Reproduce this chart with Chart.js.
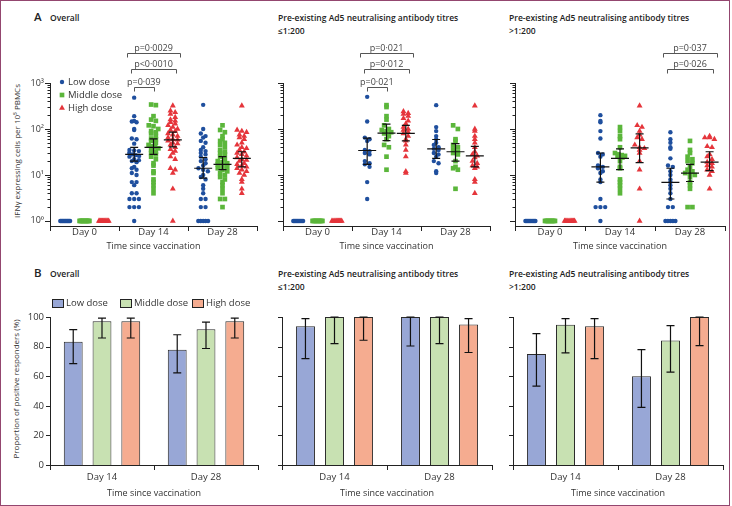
<!DOCTYPE html>
<html>
<head>
<meta charset="utf-8">
<script src="https://cdn.jsdelivr.net/npm/chart.js@4.4.1/dist/chart.umd.min.js"></script>
<style>
body { margin: 0; background: #fff; }
#fig { position: relative; width: 732px; height: 506px; font-family: "Open Sans", "Noto Sans", sans-serif; color: #333; }
#frame { position: absolute; left: 0; top: 0; width: 728px; height: 504px; border: 1px solid #93466f; }
canvas { position: absolute; }
.t { position: absolute; white-space: nowrap; font-size: 8.5px; line-height: 13px; }
.h { font-weight: 600; color: #222; }
.big { font-size: 11.5px; font-weight: 600; color: #222; }
.r { font-size: 8px; transform: translate(-50%, -50%) rotate(-90deg); }
</style>
</head>
<body>
<div id="fig">
  <div id="frame"></div>

  <div class="t big" style="left:34px;top:10px">A</div>
  <div class="t h" style="left:50px;top:11px">Overall</div>
  <div class="t h" style="left:278px;top:11px">Pre-existing Ad5 neutralising antibody titres<br>≤1:200</div>
  <div class="t h" style="left:509px;top:11px">Pre-existing Ad5 neutralising antibody titres<br>&gt;1:200</div>

  <div class="t big" style="left:34px;top:266px">B</div>
  <div class="t h" style="left:50px;top:267px">Overall</div>
  <div class="t h" style="left:278px;top:267px">Pre-existing Ad5 neutralising antibody titres<br>≤1:200</div>
  <div class="t h" style="left:509px;top:267px">Pre-existing Ad5 neutralising antibody titres<br>&gt;1:200</div>

  <div class="t r" style="left:16px;top:151px">IFNγ expressing cells per 10⁵ PBMCs</div>
  <div class="t r" style="left:15px;top:389px">Proportion of positive responders (%)</div>

  <canvas id="a1" width="268" height="258" style="left:0;top:0"></canvas>
  <canvas id="a2" width="232" height="258" style="left:268px;top:0"></canvas>
  <canvas id="a3" width="232" height="258" style="left:500px;top:0"></canvas>
  <canvas id="b1" width="268" height="248" style="left:0;top:258px"></canvas>
  <canvas id="b2" width="232" height="248" style="left:268px;top:258px"></canvas>
  <canvas id="b3" width="232" height="248" style="left:500px;top:258px"></canvas>
</div>

<script>
// categories and labels
const days = ['Day 0', 'Day 14', 'Day 28'];
const barDays = ['Day 14', 'Day 28'];
const doses = ['Low dose', 'Middle dose', 'High dose'];
const yMajor = [1, 10, 100, 1000];
const yMajorText = ['10⁰', '10¹', '10²', '10³'];
const pctTicks = [0, 20, 40, 60, 80, 100];

// A - overall, IFNy spots per 10^5 PBMCs (1 = none detected)
const ovLowD0 = [1, 1, 1, 1, 1, 1, 1, 1, 1, 1, 1, 1];
const ovMidD0 = [1, 1, 1, 1, 1, 1, 1, 1, 1, 1, 1, 1];
const ovHighD0 = [1, 1, 1, 1, 1, 1, 1, 1, 1, 1, 1, 1];
const ovLowD14 = [480, 190, 150, 145, 140, 100, 95, 62, 60, 48, 35, 34, 33, 30, 28, 27, 26, 25, 22, 21, 20, 19, 15, 14, 13, 11, 10, 7, 7, 6, 4, 4, 3, 3, 3, 2, 2, 2, 1];
const ovMidD14 = [340, 330, 190, 160, 150, 120, 115, 100, 90, 85, 80, 70, 62, 60, 55, 50, 45, 42, 40, 38, 35, 32, 30, 28, 25, 22, 18, 16, 12, 11, 8, 7, 6, 5, 4];
const ovHighD14 = [320, 250, 230, 210, 180, 160, 150, 140, 130, 120, 110, 100, 95, 90, 80, 75, 70, 65, 60, 58, 55, 50, 48, 45, 40, 36, 33, 30, 25, 22, 14, 13, 11, 5, 1];
const ovLowD28 = [335, 100, 80, 70, 65, 55, 50, 40, 35, 33, 30, 28, 25, 22, 20, 18, 16, 14, 13, 12, 10, 9, 8, 6, 5, 4, 3, 3, 2, 2, 1, 1, 1, 1, 1];
const ovMidD28 = [120, 95, 85, 70, 60, 55, 50, 45, 40, 35, 32, 30, 28, 25, 22, 20, 19, 18, 17, 16, 15, 14, 13, 12, 11, 10, 9, 8, 7, 6, 5, 4, 3, 3, 2];
const ovHighD28 = [320, 95, 90, 85, 75, 70, 65, 60, 50, 45, 40, 38, 35, 32, 30, 28, 26, 24, 22, 21, 20, 18, 17, 16, 15, 14, 13, 12, 11, 10, 8, 7, 5, 4];
// medians and 95% CI, rows Day 14 / Day 28, cols low / middle / high
const ovMedian = [[28, 40, 58], [14, 17, 23]];
const ovCiLo = [[20, 28, 41], [8.5, 13, 15]];
const ovCiHi = [[40, 61, 85], [24, 25, 32]];

// A - titres <=1:200
const leLowD0 = [1, 1, 1, 1, 1, 1, 1, 1, 1, 1];
const leMidD0 = [1, 1, 1, 1, 1, 1, 1, 1, 1, 1];
const leHighD0 = [1, 1, 1, 1, 1, 1, 1, 1, 1, 1];
const leLowD14 = [500, 145, 65, 60, 55, 35, 33, 30, 28, 20, 18, 17, 15, 7, 3];
const leMidD14 = [330, 300, 190, 160, 120, 100, 95, 90, 85, 80, 70, 60, 45, 40, 25, 13];
const leHighD14 = [240, 220, 210, 190, 170, 150, 130, 110, 100, 95, 85, 80, 70, 60, 55, 45, 35, 25, 12, 11];
const leLowD28 = [330, 110, 90, 70, 60, 50, 45, 40, 37, 35, 30, 28, 25, 20, 18, 12, 11];
const leMidD28 = [120, 100, 60, 55, 45, 40, 36, 32, 30, 28, 20, 15, 14, 13, 5];
const leHighD28 = [320, 100, 90, 70, 60, 50, 40, 32, 28, 26, 24, 20, 18, 16, 15, 14, 8, 7, 4];
const leMedian = [[34, 81, 80], [37, 32, 26]];
const leCiLo = [[17, 56, 55], [23, 20, 15]];
const leCiHi = [[63, 128, 120], [59, 48, 42]];

// A - titres >1:200
const gtLowD0 = [1, 1, 1, 1, 1, 1, 1, 1, 1, 1];
const gtMidD0 = [1, 1, 1, 1, 1, 1, 1, 1, 1, 1];
const gtHighD0 = [1, 1, 1, 1, 1, 1, 1, 1, 1, 1];
const gtLowD14 = [200, 150, 140, 90, 62, 30, 28, 25, 16, 15, 14, 12, 11, 8, 7, 3, 2, 2, 2, 1];
const gtMidD14 = [110, 90, 70, 60, 40, 30, 28, 27, 26, 25, 24, 20, 15, 14, 8, 7, 6, 5, 4];
const gtHighD14 = [320, 120, 110, 90, 75, 65, 60, 45, 40, 38, 35, 30, 20, 13, 5, 1];
const gtLowD28 = [85, 60, 50, 40, 37, 23, 16, 15, 12, 10, 8, 7, 6, 5, 4, 3, 2, 2, 1, 1, 1, 1, 1];
const gtMidD28 = [55, 35, 30, 25, 22, 20, 18, 15, 13, 12, 11, 11, 10, 9, 7, 6, 5, 2, 2];
const gtHighD28 = [70, 65, 65, 60, 42, 40, 28, 25, 22, 19, 18, 16, 15, 13, 12, 10, 5];
const gtMedian = [[15, 23, 39], [6.9, 11, 19]];
const gtCiLo = [[7, 13, 18.5], [3, 7.2, 12.4]];
const gtCiHi = [[30, 37, 78], [14, 17, 32]];

// significance brackets (day index, from dose, to dose, stacking level)
const ovBrackets = [
  { day: 1, from: 0, to: 1, level: 0, text: 'p=0·039' },
  { day: 1, from: 0, to: 2, level: 1, text: 'p<0·0010' },
  { day: 1, from: 0, to: 2, level: 2, text: 'p=0·0029' }
];
const leBrackets = [
  { day: 1, from: 0, to: 1, level: 0, text: 'p=0·021' },
  { day: 1, from: 0, to: 2, level: 1, text: 'p=0·012' },
  { day: 1, from: 0, to: 2, level: 2, text: 'p=0·021' }
];
const gtBrackets = [
  { day: 2, from: 0, to: 2, level: 1, text: 'p=0·026' },
  { day: 2, from: 0, to: 2, level: 2, text: 'p=0·037' }
];

// B - proportion of positive responders (%), rows Day 14 / Day 28
const ovPct = [[83.3, 97.2, 97.2], [77.8, 91.7, 97.2]];
const ovPctLo = [[68.5, 85.8, 85.8], [62.2, 78.7, 85.8]];
const ovPctHi = [[91.5, 99.3, 99.3], [88, 96.6, 99.3]];
const lePct = [[93.8, 100, 100], [100, 100, 95]];
const lePctLo = [[71.9, 82, 84.3], [80.4, 82, 76]];
const lePctHi = [[98.9, 100, 100], [100, 100, 98.9]];
const gtPct = [[75, 94.7, 93.8], [60, 84.2, 100]];
const gtPctLo = [[53.3, 75.7, 71.9], [38.9, 62.7, 80.7]];
const gtPctHi = [[88.8, 98.9, 98.9], [78, 94.2, 100]];

// styles
const FONT = '"Open Sans", "Noto Sans", "DejaVu Sans", sans-serif';
const DOSE_COLORS = ['#1f4f9e', '#5bb63b', '#e5353b'];
const DOSE_STYLES = ['circle', 'rect', 'triangle'];
const DOSE_RADIUS = [2.2, 3.3, 3.4];
const BAR_COLORS = ['#98a7d6', '#c8e1b2', '#f5ac90'];
const DOSE_OFFSET = [-0.28, 0, 0.28];
const PX_PER_CAT = 70;

// spread points with similar values side by side (column scatter)
function beeswarm(values, center) {
  const bins = {};
  values.forEach(v => {
    const k = Math.round(Math.log10(v) / 0.085);
    (bins[k] = bins[k] || []).push(v);
  });
  const pts = [];
  Object.values(bins).forEach(list => {
    const n = list.length;
    const step = n > 1 ? Math.min(4.8, 10 / (n - 1)) : 0;
    list.forEach((v, i) => pts.push({ x: center + (i - (n - 1) / 2) * step / PX_PER_CAT, y: v }));
  });
  return pts;
}

function shape(ctx, style, x, y, r, color) {
  ctx.fillStyle = color;
  ctx.beginPath();
  if (style == 'circle') ctx.arc(x, y, r, 0, Math.PI * 2);
  else if (style == 'rect') { const s = r * Math.SQRT1_2; ctx.rect(x - s, y - s, 2 * s, 2 * s); }
  else { ctx.moveTo(x, y - r); ctx.lineTo(x + r * 0.866, y + r * 0.5); ctx.lineTo(x - r * 0.866, y + r * 0.5); ctx.closePath(); }
  ctx.fill();
}

const r5 = v => Math.round(v) + 0.5;

function makeScatter(id, pad, groups, med, lo, hi, brackets, showTicks, showLegend) {
  const datasets = doses.map((name, d) => ({
    label: name,
    data: groups.flatMap((g, day) => beeswarm(g[d], day + DOSE_OFFSET[d])),
    pointStyle: DOSE_STYLES[d],
    pointRadius: DOSE_RADIUS[d],
    backgroundColor: DOSE_COLORS[d],
    borderWidth: 0,
    clip: false
  }));
  const axes = {
    id: 'axesA',
    beforeDatasetsDraw(chart) {
      const { ctx, chartArea: a, scales: { x, y } } = chart;
      ctx.save();
      ctx.strokeStyle = '#222';
      ctx.lineWidth = 1;
      ctx.beginPath();
      ctx.moveTo(r5(a.left), y.getPixelForValue(1000));
      ctx.lineTo(r5(a.left), r5(a.bottom));
      ctx.lineTo(a.right, r5(a.bottom));
      [-0.5, 0.5, 1.5, 2.5].forEach(v => {
        const px = r5(x.getPixelForValue(v));
        ctx.moveTo(px, a.bottom);
        ctx.lineTo(px, a.bottom + 5);
      });
      yMajor.forEach((m, i) => {
        const py = r5(y.getPixelForValue(m));
        ctx.moveTo(a.left - 5, py);
        ctx.lineTo(a.left, py);
        if (i < yMajor.length - 1) {
          for (let k = 2; k <= 9; k++) {
            const pm = r5(y.getPixelForValue(m * k));
            ctx.moveTo(a.left - 2.5, pm);
            ctx.lineTo(a.left, pm);
          }
        }
      });
      ctx.stroke();
      ctx.fillStyle = '#333';
      ctx.textBaseline = 'middle';
      if (showTicks) {
        ctx.font = '9px ' + FONT;
        ctx.textAlign = 'right';
        yMajor.forEach((m, i) => ctx.fillText(yMajorText[i], a.left - 6, y.getPixelForValue(m)));
      }
      ctx.font = '9.5px ' + FONT;
      ctx.textAlign = 'center';
      days.forEach((d, i) => ctx.fillText(d, x.getPixelForValue(i), a.bottom + 6));
      ctx.font = '9px ' + FONT;
      ctx.fillText('Time since vaccination', (a.left + a.right) / 2, a.bottom + 20);
      if (showLegend) {
        ctx.font = '9.5px ' + FONT;
        ctx.textAlign = 'left';
        doses.forEach((name, d) => {
          const ly = a.top - 1 + d * 13;
          shape(ctx, DOSE_STYLES[d], a.left + 12, ly, DOSE_RADIUS[d], DOSE_COLORS[d]);
          ctx.fillStyle = '#333';
          ctx.fillText(name, a.left + 18, ly);
        });
      }
      ctx.restore();
    },
    afterDatasetsDraw(chart) {
      const { ctx, chartArea: a, scales: { x, y } } = chart;
      ctx.save();
      ctx.strokeStyle = '#111';
      ctx.lineWidth = 1.2;
      ctx.beginPath();
      med.forEach((row, k) => row.forEach((m, d) => {
        const cx = x.getPixelForValue(k + 1 + DOSE_OFFSET[d]);
        const ym = y.getPixelForValue(m), yl = y.getPixelForValue(lo[k][d]), yh = y.getPixelForValue(hi[k][d]);
        ctx.moveTo(cx - 9, ym); ctx.lineTo(cx + 9, ym);
        ctx.moveTo(cx, yl); ctx.lineTo(cx, yh);
        ctx.moveTo(cx - 4, yl); ctx.lineTo(cx + 4, yl);
        ctx.moveTo(cx - 4, yh); ctx.lineTo(cx + 4, yh);
      }));
      ctx.stroke();
      // brackets
      const levelY = [a.top + 4, a.top - 14, a.top - 30];
      const levelPad = [0, 3, 7];
      ctx.strokeStyle = '#555';
      ctx.lineWidth = 1;
      ctx.fillStyle = '#444';
      ctx.font = '9px ' + FONT;
      ctx.textAlign = 'center';
      ctx.textBaseline = 'alphabetic';
      brackets.forEach(b => {
        const x1 = x.getPixelForValue(b.day + DOSE_OFFSET[b.from]) - levelPad[b.level];
        const x2 = x.getPixelForValue(b.day + DOSE_OFFSET[b.to]) + levelPad[b.level];
        const by = r5(levelY[b.level]);
        ctx.beginPath();
        ctx.moveTo(r5(x1), by + 4); ctx.lineTo(r5(x1), by); ctx.lineTo(r5(x2), by); ctx.lineTo(r5(x2), by + 4);
        ctx.stroke();
        ctx.fillText(b.text, (x1 + x2) / 2, by - 3);
      });
      ctx.restore();
    }
  };
  new Chart(document.getElementById(id), {
    type: 'scatter',
    data: { datasets },
    options: {
      responsive: false,
      animation: false,
      devicePixelRatio: 1,
      layout: { padding: pad },
      plugins: { legend: { display: false }, tooltip: { enabled: false } },
      scales: {
        x: { type: 'linear', min: -0.5, max: 2.5, display: false },
        y: { type: 'logarithmic', min: 0.776, max: 1000, display: false }
      }
    },
    plugins: [axes]
  });
}

function makeBars(id, pad, pct, lo, hi, showTicks, showLegend) {
  const datasets = doses.map((name, d) => ({
    label: name,
    data: pct.map(r => r[d]),
    backgroundColor: BAR_COLORS[d],
    borderColor: '#2a2a2a',
    borderWidth: 1,
    categoryPercentage: 0.83,
    barPercentage: 0.655
  }));
  const axes = {
    id: 'axesB',
    beforeDatasetsDraw(chart) {
      const { ctx, chartArea: a, scales: { x, y } } = chart;
      ctx.save();
      ctx.strokeStyle = '#222';
      ctx.lineWidth = 1;
      ctx.beginPath();
      ctx.moveTo(r5(a.left), y.getPixelForValue(100));
      ctx.lineTo(r5(a.left), r5(a.bottom));
      ctx.lineTo(a.right, r5(a.bottom));
      const w = (a.right - a.left) / barDays.length;
      for (let i = 0; i <= barDays.length; i++) {
        const px = r5(a.left + i * w);
        ctx.moveTo(px, a.bottom);
        ctx.lineTo(px, a.bottom + 5);
      }
      pctTicks.forEach(t => {
        const py = r5(y.getPixelForValue(t));
        ctx.moveTo(a.left - 4, py);
        ctx.lineTo(a.left, py);
      });
      ctx.stroke();
      ctx.fillStyle = '#333';
      ctx.textBaseline = 'middle';
      if (showTicks) {
        ctx.font = '9.5px ' + FONT;
        ctx.textAlign = 'right';
        pctTicks.forEach(t => ctx.fillText(String(t), a.left - 6, y.getPixelForValue(t)));
      }
      ctx.font = '9.5px ' + FONT;
      ctx.textAlign = 'center';
      barDays.forEach((d, i) => ctx.fillText(d, x.getPixelForValue(i), a.bottom + 12));
      ctx.font = '9px ' + FONT;
      ctx.fillText('Time since vaccination', (a.left + a.right) / 2, a.bottom + 28);
      if (showLegend) {
        ctx.font = '9.5px ' + FONT;
        ctx.textAlign = 'left';
        const lx = [2, 70, 142];
        doses.forEach((name, d) => {
          const bx = a.left + lx[d], by = a.top - 18;
          ctx.fillStyle = BAR_COLORS[d];
          ctx.fillRect(bx, by, 11, 8);
          ctx.strokeRect(bx + 0.5, by + 0.5, 11, 8);
          ctx.fillStyle = '#333';
          ctx.fillText(name, bx + 14, by + 4.5);
        });
      }
      ctx.restore();
    },
    afterDatasetsDraw(chart) {
      const { ctx, scales: { y } } = chart;
      ctx.save();
      ctx.strokeStyle = '#111';
      ctx.lineWidth = 1.2;
      ctx.beginPath();
      doses.forEach((name, d) => {
        chart.getDatasetMeta(d).data.forEach((bar, k) => {
          const cx = bar.x;
          const yl = y.getPixelForValue(lo[k][d]), yh = y.getPixelForValue(hi[k][d]);
          ctx.moveTo(cx, yl); ctx.lineTo(cx, yh);
          ctx.moveTo(cx - 4, yl); ctx.lineTo(cx + 4, yl);
          ctx.moveTo(cx - 4, yh); ctx.lineTo(cx + 4, yh);
        });
      });
      ctx.stroke();
      ctx.restore();
    }
  };
  new Chart(document.getElementById(id), {
    type: 'bar',
    data: { labels: barDays, datasets },
    options: {
      responsive: false,
      animation: false,
      devicePixelRatio: 1,
      layout: { padding: pad },
      plugins: { legend: { display: false }, tooltip: { enabled: false } },
      scales: {
        x: { type: 'category', display: false },
        y: { type: 'linear', min: 0, max: 100, display: false }
      }
    },
    plugins: [axes]
  });
}

makeScatter('a1', { left: 50, top: 83, right: 11, bottom: 32 },
  [[ovLowD0, ovMidD0, ovHighD0], [ovLowD14, ovMidD14, ovHighD14], [ovLowD28, ovMidD28, ovHighD28]],
  ovMedian, ovCiLo, ovCiHi, ovBrackets, true, true);
makeScatter('a2', { left: 15, top: 83, right: 10, bottom: 32 },
  [[leLowD0, leMidD0, leHighD0], [leLowD14, leMidD14, leHighD14], [leLowD28, leMidD28, leHighD28]],
  leMedian, leCiLo, leCiHi, leBrackets, false, false);
makeScatter('a3', { left: 15, top: 83, right: 7, bottom: 32 },
  [[gtLowD0, gtMidD0, gtHighD0], [gtLowD14, gtMidD14, gtHighD14], [gtLowD28, gtMidD28, gtHighD28]],
  gtMedian, gtCiLo, gtCiHi, gtBrackets, false, false);

makeBars('b1', { left: 50, top: 59, right: 10, bottom: 41 }, ovPct, ovPctLo, ovPctHi, true, true);
makeBars('b2', { left: 14, top: 59, right: 8, bottom: 41 }, lePct, lePctLo, lePctHi, false, false);
makeBars('b3', { left: 13, top: 59, right: 9, bottom: 41 }, gtPct, gtPctLo, gtPctHi, false, false);
</script>
</body>
</html>
